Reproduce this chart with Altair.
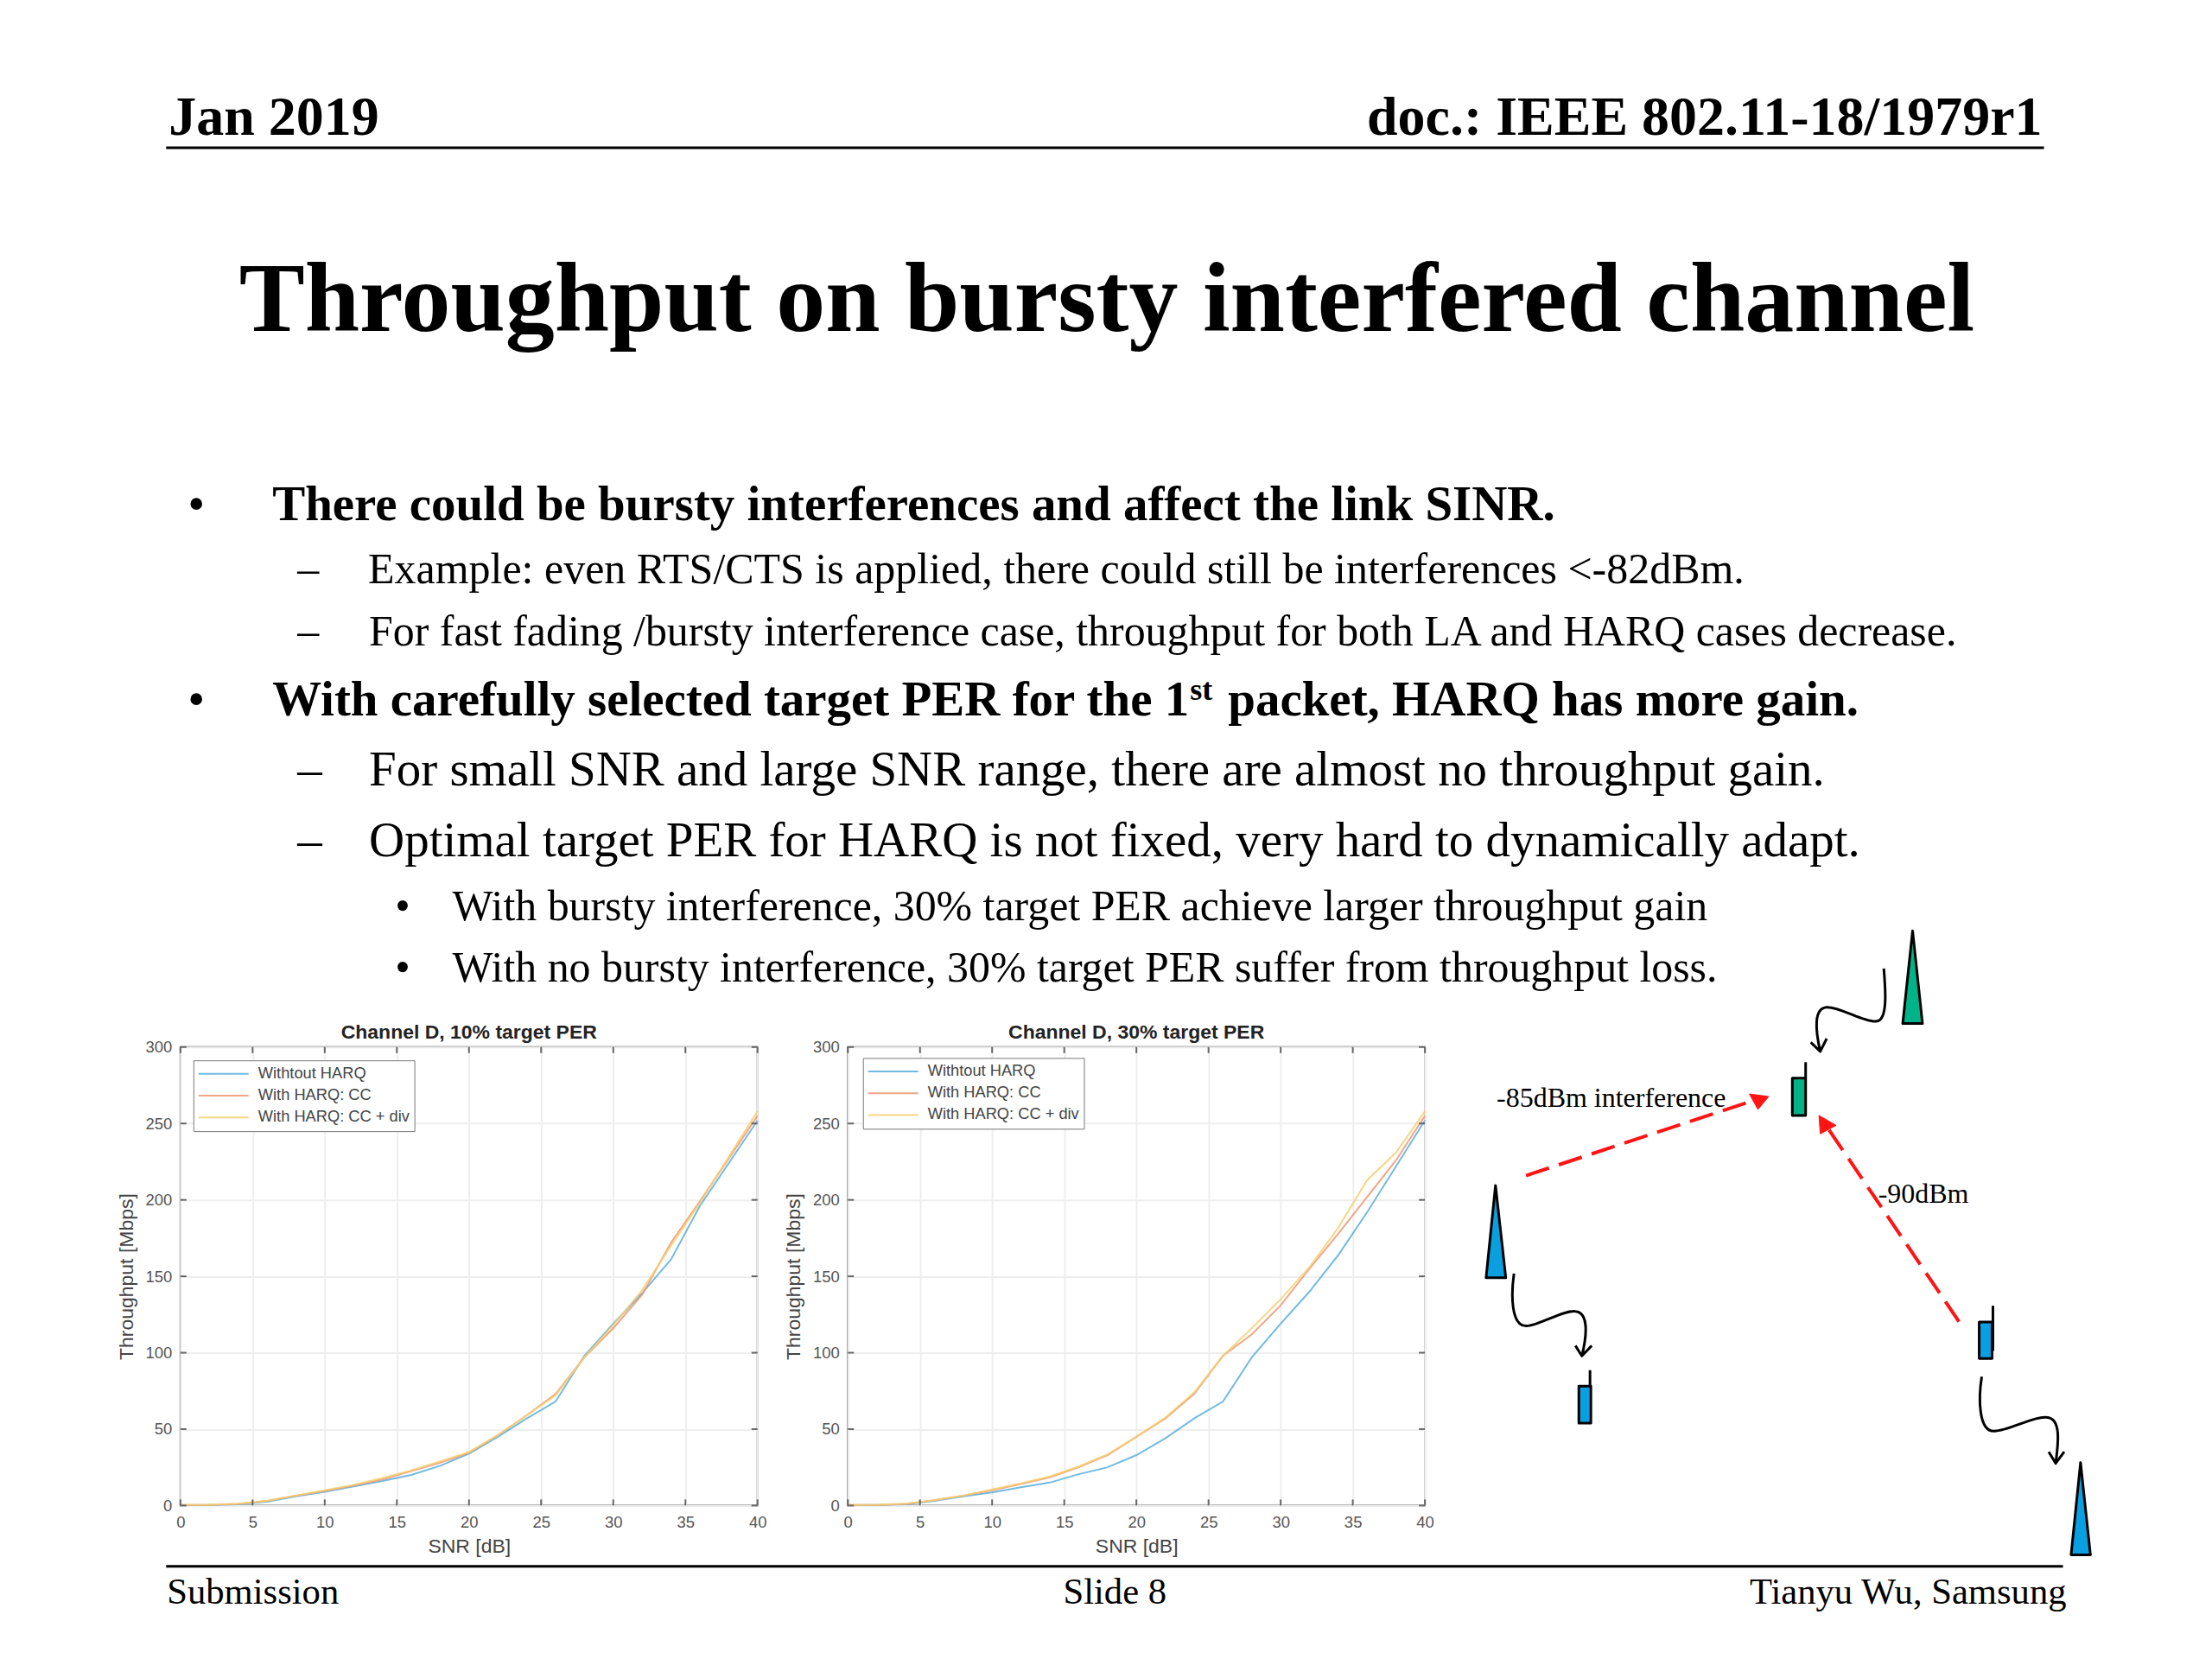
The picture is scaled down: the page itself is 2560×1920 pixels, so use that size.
import altair as alt
import pandas as pd

SNR = [0, 2, 4, 6, 8, 10, 12, 14, 16, 18, 20, 22, 24, 26, 28, 30, 32, 34, 36, 38, 40]
SERIES = ["Withtout HARQ", "With HARQ: CC", "With HARQ: CC + div"]
COLORS = ["#5aaedb", "#ee9670", "#f5cf70"]
XTICKS = [0, 5, 10, 15, 20, 25, 30, 35, 40]
YTICKS = [0, 50, 100, 150, 200, 250, 300]

P1_NOHARQ = [0.2, 0.3, 0.8, 2.5, 6, 9, 12.5, 16, 20, 26, 34, 45, 57, 68, 98, 119, 139, 161, 196, 224, 252]
P1_CC = [0.3, 0.4, 1, 3, 6.5, 9.5, 13, 17, 22.5, 28, 34.5, 46, 59, 73, 97, 116, 138, 172, 199, 227, 255]
P1_DIV = [0.4, 0.5, 1.2, 3, 6.5, 10, 13.5, 18, 23, 29, 35, 46, 59, 72, 97, 118, 141, 170, 198, 228, 258]
P2_NOHARQ = [0.2, 0.3, 0.8, 3, 6, 8.5, 12, 15, 20.5, 25, 33, 44, 57, 68, 97, 119, 140, 164, 192, 222, 252]
P2_CC = [0.3, 0.4, 1, 3.5, 6.5, 10, 14, 18.5, 25, 33, 45, 57, 73, 98, 112, 131, 155, 178, 202, 226, 255]
P2_DIV = [0.4, 0.5, 1.2, 3.5, 6.5, 10.5, 14.5, 19, 25.5, 33.5, 45, 57.5, 74, 98, 116, 135, 156, 182, 213, 231, 258]

OX, OY = 208.6, 1210.6      # page position of the first plot's corner
W, H = 668.4, 531
SANS, SERIF = "Liberation Sans", "Liberation Serif"
ONE = alt.Data(values=[{}])


def txt(s, px, py, size, bold=False, align="left", font=SERIF, color="#000000"):
    return alt.Chart(ONE).mark_text(
        font=font, fontSize=size, fontWeight="bold" if bold else "normal",
        align=align, baseline="alphabetic", color=color,
    ).encode(x=alt.value(px - OX), y=alt.value(py - OY), text=alt.value(s))


def hline(x1, x2, y, width):
    return alt.Chart(ONE).mark_rule(color="#000000", strokeWidth=width).encode(
        x=alt.value(x1 - OX), x2=alt.value(x2 - OX), y=alt.value(y - OY))


# diagram shapes, drawn from one anchor through Vega's custom symbol paths
DX, DY, DS = 1680, 1050, 2.01
def shape(path, fill=None, stroke="#000000", sw=3, dash=None):
    kw = dict(shape=path, size=4 / DS ** 2, opacity=1, stroke=stroke, strokeWidth=sw,
              strokeJoin="round")
    if fill:
        kw.update(filled=True, fill=fill)
    else:
        kw.update(filled=False, fill="transparent")
    if dash:
        kw["strokeDash"] = dash
    return alt.Chart(ONE).mark_point(**kw).encode(x=alt.value(DX - OX), y=alt.value(DY - OY))


GREEN, BLUE, RED = "#00b388", "#0a9fe0", "#ff1414"


def panel(title, a, b, c, lx, ly, extra=()):
    df = pd.DataFrame({
        "snr": SNR * 3,
        "tp": a + b + c,
        "series": [s for s in SERIES for _ in SNR],
    })
    xs = alt.Scale(domain=[0, 40], nice=False)
    ys = alt.Scale(domain=[0, 300], nice=False)
    lines = alt.Chart(df).mark_line(strokeWidth=2, opacity=0.85).encode(
        x=alt.X("snr:Q", scale=xs, title="SNR [dB]", axis=alt.Axis(
            values=XTICKS, ticks=False, domain=False, grid=True, gridColor="#eeeeee", gridWidth=2,
            labelFont=SANS, labelFontSize=18.5, labelColor="#555555", labelPadding=10, labelFlush=False,
            titleFont=SANS, titleFontSize=23, titleFontWeight="normal", titleColor="#444444",
            titlePadding=8)),
        y=alt.Y("tp:Q", scale=ys, title="Throughput [Mbps]", axis=alt.Axis(
            values=YTICKS, ticks=False, domain=False, grid=True, gridColor="#eeeeee", gridWidth=2,
            labelFont=SANS, labelFontSize=18.5, labelColor="#555555", labelPadding=10, labelFlush=False,
            titleFont=SANS, titleFontSize=23, titleFontWeight="normal", titleColor="#444444",
            titlePadding=10)),
        color=alt.Color("series:N", scale=alt.Scale(domain=SERIES, range=COLORS), legend=alt.Legend(
            title=None, orient="none", legendX=lx, legendY=ly, fillColor="#ffffff", strokeColor="#777777",
            padding=5, symbolType="stroke", symbolSize=3364, symbolStrokeWidth=2, clipHeight=21,
            rowPadding=4.3, labelFont=SANS, labelFontSize=18.3, labelColor="#444444", labelOffset=10,
            labelLimit=400)),
        order=alt.Order("rank:Q"),
    ).transform_calculate(rank="indexof(%r, datum.series)" % SERIES)
    xd = pd.DataFrame({"v": XTICKS})
    yd = pd.DataFrame({"v": YTICKS})
    tick = dict(color="#666666", strokeWidth=2)
    tx = lambda y1, y2: alt.Chart(xd).mark_rule(**tick).encode(
        x=alt.X("v:Q", scale=xs), y=alt.value(y1), y2=alt.value(y2))
    ty = lambda x1, x2: alt.Chart(yd).mark_rule(**tick).encode(
        y=alt.Y("v:Q", scale=ys), x=alt.value(x1), x2=alt.value(x2))
    head = alt.Chart(ONE).mark_text(font=SANS, fontSize=23, fontWeight="bold", color="#222222",
                                    align="center", baseline="alphabetic").encode(
        x=alt.value(W / 2), y=alt.value(-9.5), text=alt.value(title))
    return alt.layer(lines, tx(H, H - 7), tx(0, 7), ty(0, 7), ty(W, W - 7), head, *extra).properties(
        width=W, height=H)


BODY_SUB, BODY_MID, BODY_B = 50, 57, 57
slide = [
    alt.Chart(ONE).mark_rect(opacity=0).encode(
        x=alt.value(9.5 - OX), x2=alt.value(2552 - OX), y=alt.value(8 - OY), y2=alt.value(1912 - OY)),
    txt("Jan 2019", 195, 153.5, 64, True),
    txt("doc.: IEEE 802.11-18/1979r1", 2365, 153.5, 64, True, "right"),
    hline(192, 2367, 169, 3),
    txt("Throughput on bursty interfered channel", 276.5, 381, 114, True),
    txt("•", 227, 600, BODY_B, False, "center"),
    txt("There could be bursty interferences and affect the link SINR.", 315, 600, BODY_B, True),
    txt("–", 344, 673, BODY_SUB),
    txt("Example: even RTS/CTS is applied, there could still be interferences <-82dBm.", 426, 673, BODY_SUB),
    txt("–", 344, 745.5, BODY_SUB),
    txt("For fast fading /bursty interference case, throughput for both LA and HARQ cases decrease.", 427, 745.5, 49.9),
    txt("•", 227, 826, BODY_B, False, "center"),
    txt("With carefully selected target PER for the 1", 315, 826, BODY_B, True),
    txt("st", 1378, 808, 36, True),
    txt("packet, HARQ has more gain.", 1422, 826, BODY_B, True),
    txt("–", 344, 908, BODY_MID),
    txt("For small SNR and large SNR range, there are almost no throughput gain.", 427, 908, BODY_MID),
    txt("–", 344, 990, BODY_MID),
    txt("Optimal target PER for HARQ is not fixed, very hard to dynamically adapt.", 427, 990, BODY_MID),
    txt("•", 466, 1064, BODY_SUB, False, "center"),
    txt("With bursty interference, 30% target PER achieve larger throughput gain", 523.5, 1064, 49.9),
    txt("•", 466, 1135, BODY_SUB, False, "center"),
    txt("With no bursty interference, 30% target PER suffer from throughput loss.", 523.5, 1135, 49.9),
    hline(192, 2389, 1812, 3),
    txt("Submission", 193, 1855, 42.67),
    txt("Slide 8", 1231, 1855, 42.67),
    txt("Tianyu Wu, Samsung", 2393, 1855, 42.67, False, "right"),
    # diagram
    shape("M1075,52L1098,268L1052,268Z", GREEN),
    shape("M104,645L128,860L82,860Z", BLUE),
    shape("M1466,1290L1489,1505L1444,1505Z", BLUE),
    shape("M795,395L826,395L826,482L795,482Z", GREEN),
    shape("M826,358L826,395"),
    shape("M298,1112L326,1112L326,1198L298,1198Z", BLUE),
    shape("M324,1075L324,1112"),
    shape("M1230,963L1260,963L1260,1048L1230,1048Z", BLUE),
    shape("M1262,925L1262,1030"),
    shape("M1008,140C1012,190 1018,262 990,263C960,265 905,228 875,230C845,232 848,280 860,333M838,312L860,333L875,303"),
    shape("M147,850C140,900 140,972 175,972C205,972 260,935 290,938C320,940 318,990 305,1042M290,1018L305,1042L328,1018"),
    shape("M1236,1090C1228,1140 1228,1218 1265,1217C1300,1216 1360,1180 1390,1185C1420,1190 1415,1240 1408,1292M1392,1265L1408,1292L1428,1265"),
    shape("M175,622L690,452", stroke=RED, sw=4, dash=[28, 12]),
    shape("M740,438L695,432L715,468Z", RED, stroke=RED, sw=1),
    shape("M1183,962L880,515", stroke=RED, sw=4, dash=[28, 12]),
    shape("M857,482L897,505L860,525Z", RED, stroke=RED, sw=1),
    txt("-85dBm interference", 1733, 1280, 32),
    txt("-90dBm", 2175, 1391, 32),
]

p1 = panel("Channel D, 10% target PER", P1_NOHARQ, P1_CC, P1_DIV, 15, 15.4, slide)
p2 = panel("Channel D, 30% target PER", P2_NOHARQ, P2_CC, P2_DIV, 17.5, 12.6)

chart = alt.hconcat(p1, p2, spacing=104, bounds="flush", padding=0).resolve_scale(
    color="independent", x="independent", y="independent"
).configure_view(stroke="#666666", strokeWidth=2)

chart.save("out.html", embed_options={"renderer": "svg", "actions": False})
